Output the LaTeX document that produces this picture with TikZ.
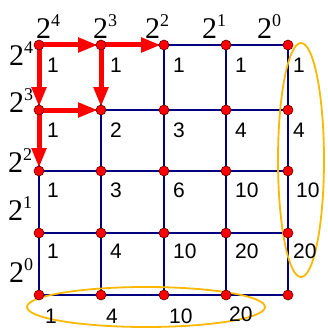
\documentclass[tikz,border=0pt]{standalone}
\usepackage{fontspec}
\setmainfont{Liberation Serif}
\newfontfamily\numfont{Liberation Sans}
\usetikzlibrary{arrows.meta}
\definecolor{gridblue}{RGB}{0,0,128}
\definecolor{pathred}{RGB}{255,0,0}
\definecolor{ringgold}{RGB}{250,185,0}
\newcommand\pw[1]{{\fontsize{30}{30}\selectfont 2}\raisebox{12pt}{\fontsize{18}{18}\selectfont #1}}
\begin{document}
\begin{tikzpicture}[x=1pt,y=-1pt,
 gridline/.style={draw=gridblue,line width=2pt},
 redpath/.style={draw=pathred,line width=5pt,-{Triangle[length=20pt,width=14pt]},shorten >=3pt},
 dot/.style={circle,fill=red,draw=black!60!red,line width=0.6pt,minimum size=10pt,inner sep=0pt},
 pow/.style={anchor=base west,inner sep=0pt},
 num/.style={anchor=base west,inner sep=0pt,font=\numfont\fontsize{21}{21}\selectfont},
 ring/.style={draw=ringgold,line width=1.8pt}]
\useasboundingbox (0,0) rectangle (327,329);
\foreach \x [count=\j from 0] in {39,101,164,226,288}
 \foreach \y [count=\i from 0] in {45,110,171,233,295}
  \coordinate (p\i\j) at (\x,\y);
% grid
\foreach \i in {0,...,4} \draw[gridline] (p\i0) -- (p\i4);
\foreach \j in {0,...,4} \draw[gridline] (p0\j) -- (p4\j);
% red path
\draw[redpath] (p00) -- (p01);
\draw[redpath] (p01) -- (p02);
\draw[redpath] (p00) -- (p10);
\draw[redpath] (p01) -- (p11);
\draw[redpath] (p10) -- (p11);
\draw[redpath] (p10) -- (p20);
% rings
\draw[ring] (301,160) ellipse [x radius=23, y radius=117];
\draw[ring] (146,307) ellipse [x radius=119, y radius=20];
% dots
\foreach \i in {0,...,4}
 \foreach \j in {0,...,4}
  \node[dot] (d\i\j) at (p\i\j) {};
% powers on top
\node[pow] (t4) at (36,38) {\pw{4}};
\node[pow] (t3) at (93,38) {\pw{3}};
\node[pow] (t2) at (145,38) {\pw{2}};
\node[pow] (t1) at (202,38) {\pw{1}};
\node[pow] (t0) at (257,38) {\pw{0}};
% powers on left
\node[pow] (l4) at (9,65) {\pw{4}};
\node[pow] (l3) at (9,112) {\pw{3}};
\node[pow] (l2) at (8,172) {\pw{2}};
\node[pow] (l1) at (8,220) {\pw{1}};
\node[pow] (l0) at (9,282) {\pw{0}};
% cell numbers
\foreach \row/\yy/\a/\b/\c/\d in {0/72/1/1/1/1, 1/137/1/2/3/4, 2/197/1/3/6/10, 3/258/1/4/10/20}{
 \node[num] (c\row a) at (47,\yy) {\a};
 \node[num] (c\row b) at (110,\yy) {\b};
 \node[num] (c\row c) at (173,\yy) {\c};
 \node[num] (c\row d) at (235,\yy) {\d};
}
% right column
\node[num] (r0) at (293,72) {1};
\node[num] (r1) at (293,137) {4};
\node[num] (r2) at (296,197) {10};
\node[num] (r3) at (293,258) {20};
% bottom row
\node[num] (b0) at (45,323) {1};
\node[num] (b1) at (106,323) {4};
\node[num] (b2) at (169,323) {10};
\node[num] (b3) at (229,321) {20};
\end{tikzpicture}
\end{document}
